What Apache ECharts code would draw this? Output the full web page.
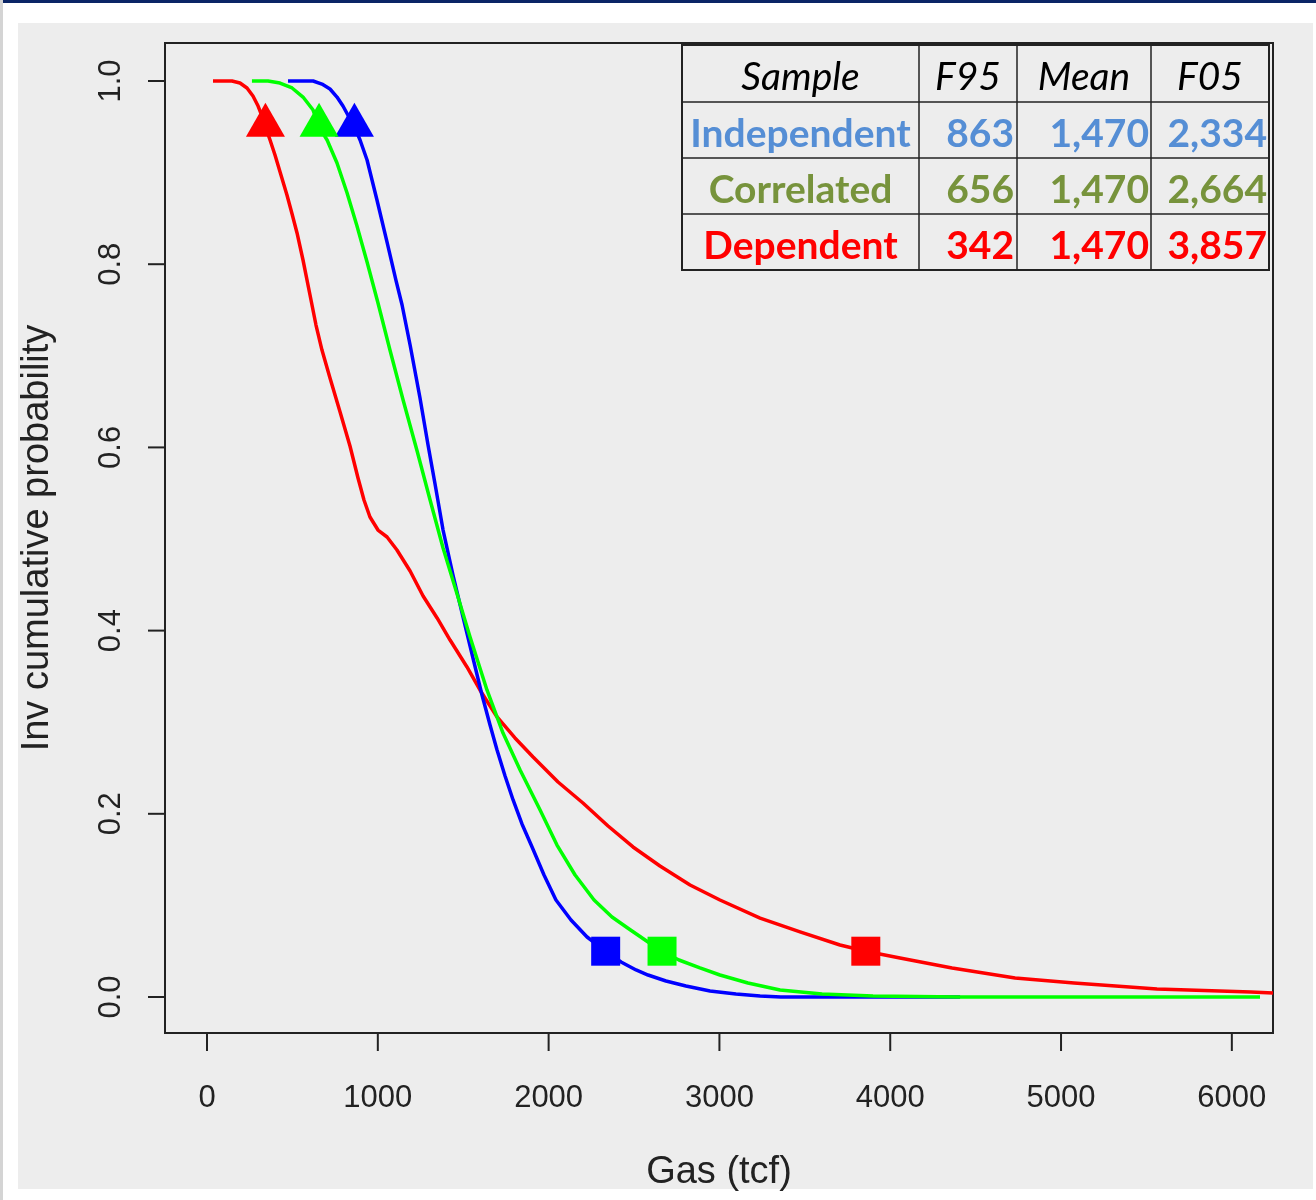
<!DOCTYPE html>
<html>
<head>
<meta charset="utf-8">
<script src="https://cdn.jsdelivr.net/npm/echarts@6/dist/echarts.min.js"></script>
<style>
  html, body { margin: 0; padding: 0; background: #fff; }
  #chart { width: 1316px; height: 1200px; }
</style>
</head>
<body>
<div id="chart"></div>
<script>
  // axis ranges and tick values
  var xRange = [-246, 6241];
  var yRange = [-0.0393, 1.0415];
  var xTicks = [0, 1000, 2000, 3000, 4000, 5000, 6000];
  var yTicks = [0, 0.2, 0.4, 0.6, 0.8, 1.0];

  // table rows
  var tableHeader = ['Sample', 'F95', 'Mean', 'F05'];
  var sampleNames = ['Independent', 'Correlated', 'Dependent'];
  var f95 = [863, 656, 342];
  var means = [1470, 1470, 1470];
  var f05 = [2334, 2664, 3857];

  // inverse cumulative curves [gas, probability]
  var independentCurve = [[474,1.0],[621,1.0],[673,0.9967],[720,0.9913],[761,0.9825],[796,0.9727],[831,0.9607],[863,0.95],[896,0.9356],[937,0.9138],[995,0.8701],[1054,0.8242],[1107,0.7817],[1142,0.7555],[1189,0.7118],[1247,0.6539],[1294,0.6026],[1335,0.56],[1382,0.5098],[1440,0.4607],[1499,0.4148],[1557,0.3701],[1610,0.3297],[1657,0.2969],[1698,0.2697],[1745,0.2413],[1792,0.2151],[1844,0.1889],[1903,0.1638],[1973,0.1332],[2043,0.1059],[2131,0.0841],[2225,0.0655],[2334,0.05],[2424,0.0382],[2512,0.0295],[2582,0.024],[2687,0.0175],[2804,0.012],[2945,0.0066],[3097,0.0033],[3238,0.0011],[3360,0.0],[4409,0.0]];
  var correlatedCurve = [[263,1.0],[357,1.0],[427,0.9978],[498,0.9924],[562,0.9825],[621,0.9683],[656,0.95],[703,0.9356],[761,0.9105],[820,0.8777],[878,0.8417],[937,0.8024],[1001,0.7576],[1071,0.7063],[1148,0.6517],[1230,0.5961],[1306,0.5426],[1382,0.4902],[1464,0.44],[1540,0.393],[1639,0.3352],[1733,0.2882],[1833,0.2478],[1950,0.2041],[2049,0.1659],[2155,0.1332],[2266,0.1059],[2371,0.0873],[2471,0.0742],[2582,0.06],[2664,0.05],[2763,0.0404],[2886,0.0317],[3003,0.024],[3167,0.0153],[3355,0.0076],[3601,0.0033],[3899,0.0011],[4409,0.0],[6165,0.0]];
  var dependentCurve = [[35,1.0],[146,1.0],[193,0.9978],[234,0.9924],[269,0.9836],[299,0.9727],[322,0.9618],[342,0.95],[369,0.9356],[398,0.9192],[433,0.8974],[468,0.8755],[498,0.8548],[527,0.8341],[562,0.8046],[603,0.7664],[638,0.7336],[673,0.7063],[720,0.6758],[779,0.6386],[837,0.6015],[884,0.5666],[919,0.5426],[954,0.524],[1001,0.5098],[1054,0.5022],[1112,0.488],[1189,0.4651],[1265,0.4378],[1347,0.4138],[1423,0.3897],[1522,0.3603],[1598,0.3352],[1698,0.3057],[1803,0.2828],[1909,0.262],[2055,0.2347],[2201,0.2118],[2348,0.1867],[2494,0.1638],[2652,0.143],[2828,0.1223],[3003,0.1059],[3238,0.0862],[3472,0.071],[3706,0.0568],[3857,0.05],[4057,0.0426],[4362,0.0317],[4731,0.0207],[5076,0.0153],[5562,0.0087],[6112,0.0055],[6241,0.0044]];

  var lineColors = ['#0000ff', '#00ff00', '#ff0000'];
  var textColors = ['#558ed5', '#77933c', '#ff0000'];
  var axisColor = '#222';
  var labelFont = 'Liberation Sans';

  function fmt(v) { return v.toLocaleString('en-US'); }

  // table drawn as graphic elements
  var colEdges = [682, 919, 1017, 1151, 1269];
  var rowEdges = [45, 102, 158, 214, 270];
  var table = [];
  table.push({ type: 'rect', z: 20, shape: { x: colEdges[0], y: rowEdges[0], width: colEdges[4] - colEdges[0], height: rowEdges[4] - rowEdges[0] },
    style: { fill: '#ededed', stroke: axisColor, lineWidth: 2 } });
  for (var r = 1; r < 4; r++) {
    table.push({ type: 'line', z: 21, shape: { x1: colEdges[0], y1: rowEdges[r], x2: colEdges[4], y2: rowEdges[r] }, style: { stroke: axisColor, lineWidth: 1.5 } });
  }
  for (var c = 1; c < 4; c++) {
    table.push({ type: 'line', z: 21, shape: { x1: colEdges[c], y1: rowEdges[0], x2: colEdges[c], y2: rowEdges[4] }, style: { stroke: axisColor, lineWidth: 1.5 } });
  }
  tableHeader.forEach(function (h, i) {
    table.push({ type: 'text', z: 22, x: (colEdges[i] + colEdges[i + 1]) / 2, y: (rowEdges[0] + rowEdges[1]) / 2 + 4,
      style: { text: h, font: 'italic 39px Lato', fill: '#000', textAlign: 'center', textVerticalAlign: 'middle' } });
  });
  sampleNames.forEach(function (name, i) {
    var cy = (rowEdges[i + 1] + rowEdges[i + 2]) / 2 + 4;
    var st = function (t, align) { return { text: t, font: 'bold 39px Lato', fill: textColors[i], textAlign: align, textVerticalAlign: 'middle' }; };
    table.push({ type: 'text', z: 22, x: (colEdges[0] + colEdges[1]) / 2, y: cy, style: st(name, 'center') });
    table.push({ type: 'text', z: 22, x: colEdges[2] - 3, y: cy, style: st(fmt(f95[i]), 'right') });
    table.push({ type: 'text', z: 22, x: colEdges[3] - 2, y: cy, style: st(fmt(means[i]), 'right') });
    table.push({ type: 'text', z: 22, x: colEdges[4] - 2, y: cy, style: st(fmt(f05[i]), 'right') });
  });

  var background = [
    { type: 'rect', z: -10, shape: { x: 0, y: 0, width: 1316, height: 3 }, style: { fill: '#0b2566' } },
    { type: 'rect', z: -10, shape: { x: 18, y: 23, width: 1295, height: 1166 }, style: { fill: '#ededed' } },
    { type: 'rect', z: -10, shape: { x: 0, y: 0, width: 3, height: 1200 }, style: { fill: '#d4d4d4' } }
  ];

  var curves = [independentCurve, correlatedCurve, dependentCurve];
  var series = [];
  // red first, then blue, green on top
  [2, 0, 1].forEach(function (i) {
    series.push({
      name: sampleNames[i], type: 'line', data: curves[i], showSymbol: false, symbol: 'none',
      smooth: false, clip: true,
      lineStyle: { color: lineColors[i], width: 3.5, join: 'round' }, z: 3
    });
  });
  [0, 1, 2].forEach(function (i) {
    series.push({
      type: 'scatter', data: [[f95[i], 0.95]], symbol: 'triangle', symbolSize: [39, 34], symbolOffset: [0, -7],
      itemStyle: { color: lineColors[i], opacity: 1 }, z: 5, silent: true
    });
    series.push({
      type: 'scatter', data: [[f05[i], 0.05]], symbol: 'rect', symbolSize: 29,
      itemStyle: { color: lineColors[i], opacity: 1 }, z: 5, silent: true
    });
  });

  var chart = echarts.init(document.getElementById('chart'), null, { renderer: 'canvas' });
  chart.setOption({
    backgroundColor: '#ffffff',
    animation: false,
    graphic: background.concat(table),
    grid: { left: 165, top: 43, width: 1108, height: 990, show: true, borderColor: axisColor, borderWidth: 2, backgroundColor: 'transparent' },
    xAxis: {
      type: 'value', min: xRange[0], max: xRange[1],
      name: 'Gas (tcf)', nameLocation: 'middle', nameGap: 121,
      nameTextStyle: { fontSize: 38, color: axisColor, fontFamily: labelFont },
      axisLine: { show: false, onZero: false },
      splitLine: { show: false },
      axisTick: { show: false },
      axisLabel: { customValues: xTicks, margin: 50, fontSize: 31, color: axisColor, fontFamily: labelFont,
        formatter: function (v) { return String(v); } }
    },
    yAxis: {
      type: 'value', min: yRange[0], max: yRange[1],
      name: 'Inv cumulative probability', nameLocation: 'middle', nameGap: 108, nameRotate: 90,
      nameTextStyle: { fontSize: 38, color: axisColor, fontFamily: labelFont },
      axisLine: { show: false, onZero: false },
      splitLine: { show: false },
      axisTick: { show: false },
      axisLabel: { customValues: yTicks, rotate: 90, margin: 38, fontSize: 31, color: axisColor, fontFamily: labelFont,
        formatter: function (v) { return v.toFixed(1); } }
    },
    series: series
  });

  // R-style outward tick marks, positioned through the grid's own scales
  var tickStyle = { stroke: axisColor, lineWidth: 2 };
  var tickEls = [];
  xTicks.forEach(function (v) {
    var p = chart.convertToPixel({ gridIndex: 0 }, [v, yRange[0]]);
    tickEls.push({ type: 'line', z: 30, shape: { x1: p[0], y1: p[1], x2: p[0], y2: p[1] + 18 }, style: tickStyle });
  });
  yTicks.forEach(function (v) {
    var p = chart.convertToPixel({ gridIndex: 0 }, [xRange[0], v]);
    tickEls.push({ type: 'line', z: 30, shape: { x1: p[0] - 17, y1: p[1], x2: p[0], y2: p[1] }, style: tickStyle });
  });
  chart.setOption({ graphic: background.concat(table, tickEls) });
</script>
</body>
</html>
